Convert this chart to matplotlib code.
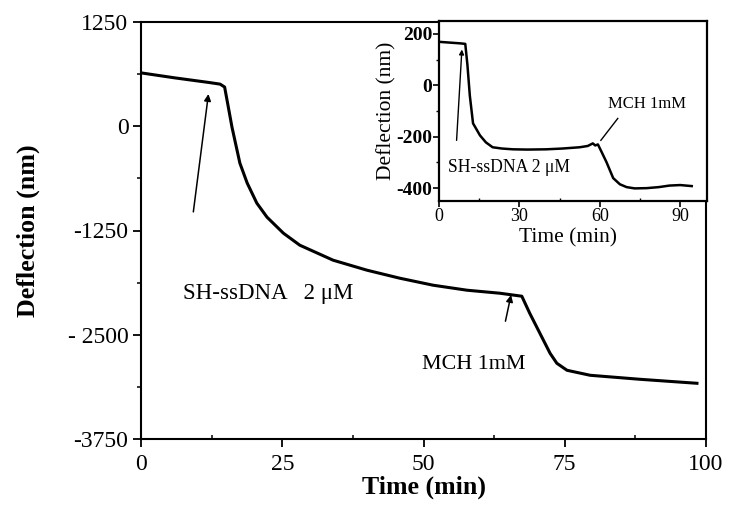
import numpy as np
import matplotlib.pyplot as plt
from matplotlib.ticker import MultipleLocator

plt.rcParams['font.family'] = ['Liberation Serif', 'DejaVu Serif']
plt.rcParams['axes.unicode_minus'] = False

# main trace: time (min), deflection (nm)
t_main = [0, 6, 12, 14, 14.8, 15.4, 16.1, 17.5, 18.8, 20.5, 22.3, 25.2, 28.1, 34,
          40, 45.8, 51.7, 57.7, 63.5, 67.4, 68.8, 70.6, 72.4, 73.6, 75.4, 79.5, 88.3, 98.4]
d_main = [640, 580, 525, 505, 470, 250, -10, -442, -682, -922, -1090, -1282, -1426, -1606,
          -1726, -1822, -1906, -1966, -2002, -2038, -2242, -2482, -2722, -2842, -2926,
          -2986, -3034, -3082]

# inset trace
t_ins = [0, 4, 8, 9.8, 10.6, 11.5, 12.7, 15.3, 17.5, 20, 23.5, 27.6, 33, 40, 46, 52.5,
         55.5, 57.4, 58.3, 59.3, 60.8, 62.5, 65, 67.5, 70, 73, 77.5, 82, 86, 90, 94.3]
d_ins = [169, 166, 163, 161, 80, -40, -148, -195, -222, -241, -246, -249, -250, -249, -246,
         -241, -236, -226, -234, -230, -262, -299, -361, -385, -396, -401, -400, -396, -390,
         -388, -392]

fig = plt.figure(figsize=(7.38, 5.22), dpi=100)
ax = fig.add_axes([141/738, 1 - 439/522, (706-141)/738, (439-22)/522])
ax.plot(t_main, d_main, color='black', lw=2.2)
ax.set_xlim(0, 100)
ax.set_ylim(-3750, 1250)
ax.set_xticks([0, 25, 50, 75, 100])
ax.set_yticks([1250, 0, -1250, -2500, -3750])
ax.set_yticklabels(['1250', '0', '-1250', '- 2500', '-3750'])
ax.yaxis.set_minor_locator(MultipleLocator(625))
ax.xaxis.set_minor_locator(MultipleLocator(12.5))
ax.tick_params(which='major', direction='out', length=6, width=1.3, labelsize=17, pad=3)
ax.tick_params(axis='x', which='major', pad=5)
ax.tick_params(which='minor', direction='out', length=3, width=1.1)
ax.tick_params(axis='x', which='minor', direction='in')
for s in ax.spines.values():
    s.set_linewidth(1.5)
ax.set_xlabel('Time (min)', fontsize=18.6, fontweight='bold', labelpad=0)
ax.set_ylabel('Deflection (nm)', fontsize=18.7, fontweight='bold', labelpad=20)

ax.annotate('', xy=(12, 420), xytext=(9.2, -1060),
            arrowprops=dict(arrowstyle='-|>', color='black', lw=1.1, mutation_scale=10))
ax.text(7.4, -2010, 'SH-ssDNA   2 \u03bcM', fontsize=16.5, va='center')
ax.annotate('', xy=(65.6, -1990), xytext=(64.4, -2370),
            arrowprops=dict(arrowstyle='-|>', color='black', lw=1.1, mutation_scale=10))
ax.text(49.8, -2855, 'MCH 1mM', fontsize=15.8, va='center')

# inset
ins = fig.add_axes([439/738, 1 - 201/522, (707-439)/738, (201-21)/522])
ins.plot(t_ins, d_ins, color='black', lw=1.8)
ins.set_xlim(0, 100)
ins.set_ylim(-450, 250)
ins.set_xticks([0, 30, 60, 90])
ins.set_yticks([200, 0, -200, -400])
ins.xaxis.set_minor_locator(MultipleLocator(15))
ins.yaxis.set_minor_locator(MultipleLocator(100))
ins.tick_params(which='major', direction='out', length=4, width=1.2, labelsize=14, pad=1)
ins.tick_params(axis='x', which='major', labelsize=13)
ins.tick_params(which='minor', direction='out', length=2.5, width=1)
ins.tick_params(axis='x', which='minor', direction='in')
for lab in ins.get_yticklabels():
    lab.set_fontweight('bold')
for s in ins.spines.values():
    s.set_linewidth(1.6)
ins.set_xlabel('Time (min)', fontsize=15.5)
ins.xaxis.set_label_coords(0.48, -0.15)
ins.set_ylabel('Deflection (nm)', fontsize=15.5, labelpad=0)
ins.annotate('', xy=(8.6, 150), xytext=(6.5, -225),
             arrowprops=dict(arrowstyle='-|>', color='black', lw=1, mutation_scale=7))
ins.text(3.4, -320, 'SH-ssDNA 2 \u03bcM', fontsize=12.7, va='center')
ins.plot([60.4, 66.7], [-214, -129], color='black', lw=1)
ins.text(63, -72, 'MCH 1mM', fontsize=12, va='center')

fig.savefig('out.png', dpi=100)
